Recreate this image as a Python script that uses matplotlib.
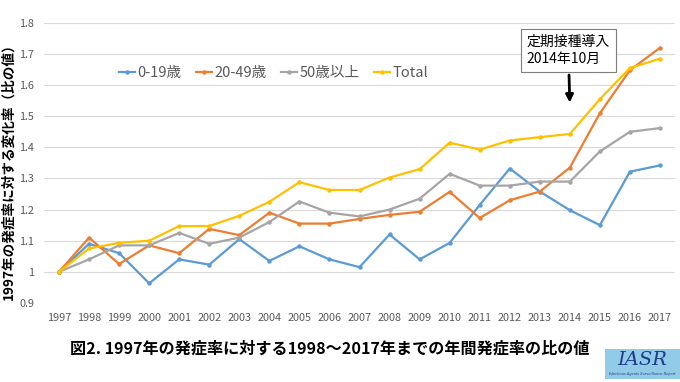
import matplotlib
matplotlib.use('Agg')
import matplotlib.pyplot as plt
from matplotlib.patches import Rectangle

plt.rcParams['font.family'] = ['Noto Sans CJK JP', 'DejaVu Sans']

years = list(range(1997, 2018))
age_0_19 = [1.0, 1.09, 1.06, 0.963, 1.04, 1.023, 1.105, 1.035, 1.082, 1.04, 1.015,
            1.12, 1.04, 1.093, 1.215, 1.332, 1.258, 1.198, 1.15, 1.322, 1.342]
age_20_49 = [1.0, 1.11, 1.025, 1.085, 1.06, 1.138, 1.118, 1.19, 1.155, 1.155, 1.17,
             1.183, 1.193, 1.257, 1.173, 1.23, 1.258, 1.335, 1.51, 1.648, 1.72]
age_50 = [1.0, 1.04, 1.085, 1.085, 1.125, 1.09, 1.11, 1.16, 1.226, 1.19, 1.178,
          1.2, 1.235, 1.315, 1.277, 1.277, 1.29, 1.29, 1.387, 1.45, 1.462]
total = [1.0, 1.075, 1.093, 1.1, 1.147, 1.147, 1.18, 1.225, 1.288, 1.263, 1.263,
         1.303, 1.33, 1.415, 1.393, 1.422, 1.433, 1.443, 1.555, 1.655, 1.685]

series = [(age_0_19, '0-19歳', '#5B9BD5'),
          (age_20_49, '20-49歳', '#ED7D31'),
          (age_50, '50歳以上', '#A5A5A5'),
          (total, 'Total', '#FFC000')]

fig = plt.figure(figsize=(6.8, 3.82), dpi=100)
ax = fig.add_axes([0.0647, 0.207, 0.928, 0.733])

for vals, name, col in series:
    ax.plot(years, vals, '-o', color=col, lw=1.6, ms=2.2, label=name)

ax.set_xlim(1996.5, 2017.5)
ax.set_ylim(0.9, 1.8)
ax.set_xticks(years)
ax.set_xticklabels([str(y) for y in years])
ax.set_yticks([0.9, 1.0, 1.1, 1.2, 1.3, 1.4, 1.5, 1.6, 1.7, 1.8])
ax.set_yticklabels(['0.9', '1', '1.1', '1.2', '1.3', '1.4', '1.5', '1.6', '1.7', '1.8'])
ax.tick_params(length=0, labelsize=7.8, colors='#595959', pad=7)
ax.grid(axis='y', color='#D9D9D9', lw=0.8)
ax.set_axisbelow(True)
for s in ax.spines.values():
    s.set_visible(False)

leg = ax.legend(loc='center left', bbox_to_anchor=(119 / 680, 1 - 73 / 382),
                bbox_transform=fig.transFigure, ncol=4, frameon=False,
                fontsize=10.5, handlelength=1.1, handletextpad=0.15, columnspacing=1.0,
                borderpad=0, borderaxespad=0)
for t in leg.get_texts():
    t.set_color('#595959')

ax.annotate('定期接種導入\n2014年10月', xy=(2014, 1.535), xytext=(2013.95, 1.712),
            ha='center', va='center', multialignment='left', fontsize=10,
            linespacing=1.35,
            bbox=dict(boxstyle='square,pad=0.4', fc='white', ec='#7F7F7F', lw=0.8),
            arrowprops=dict(arrowstyle='-|>', color='black', lw=2.0, mutation_scale=11))

fig.text(0.013, 0.56, '1997年の発症率に対する変化率（比の値）', rotation=90,
         ha='center', va='center', fontsize=9.8, fontweight='bold')

fig.text(330 / 680, 1 - 349 / 382,
         '図2. 1997年の発症率に対する1998～2017年までの年間発症率の比の値',
         ha='center', va='center', fontsize=11.6, fontweight='bold')

fig.patches.append(Rectangle((605 / 680, 3 / 382), 75 / 680, 30 / 382,
                             transform=fig.transFigure, fc='#92CBE8', ec='none'))
fig.text(642 / 680, 1 - 360 / 382, 'IASR', ha='center', va='center', fontsize=14,
         family='DejaVu Serif', style='italic', color='#1F3C88')
fig.text(642 / 680, 1 - 374 / 382, 'Infectious Agents Surveillance Report',
         ha='center', va='center', fontsize=2.5, family='DejaVu Serif',
         style='italic', color='#1F3C88')

fig.savefig('out.png', dpi=100)
